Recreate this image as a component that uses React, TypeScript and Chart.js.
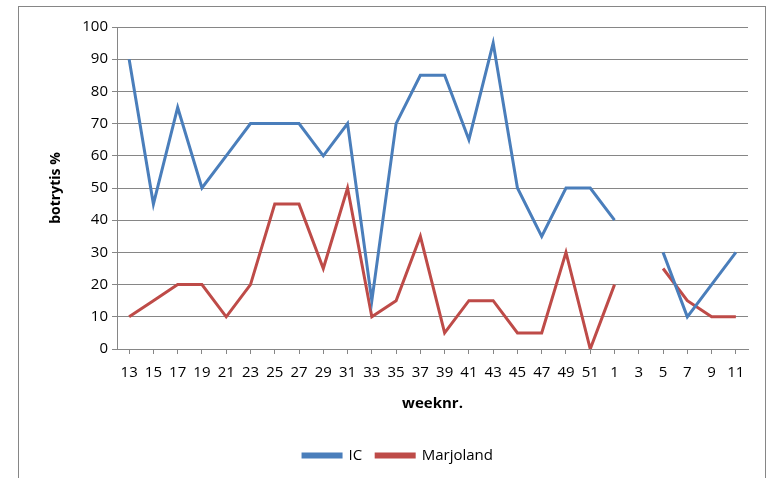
import React, { useEffect, useRef } from "react";
import { Chart, registerables } from "chart.js";

Chart.register(...registerables);

const weeks: string[] = [
  "13", "15", "17", "19", "21", "23", "25", "27", "29", "31", "33", "35", "37",
  "39", "41", "43", "45", "47", "49", "51", "1", "3", "5", "7", "9", "11",
];
const icValues: (number | null)[] = [
  90, 45, 75, 50, 60, 70, 70, 70, 60, 70, 15, 70, 85,
  85, 65, 95, 50, 35, 50, 50, 40, null, 30, 10, 20, 30,
];
const marjolandValues: (number | null)[] = [
  10, 15, 20, 20, 10, 20, 45, 45, 25, 50, 10, 15, 35,
  5, 15, 15, 5, 5, 30, 0, 20, null, 25, 15, 10, 10,
];
const yTicks: number[] = [0, 10, 20, 30, 40, 50, 60, 70, 80, 90, 100];

const FONT = "'Open Sans', sans-serif";

const frame = {
  id: "frame",
  beforeDraw(chart: any) {
    const ctx = chart.ctx;
    ctx.save();
    ctx.fillStyle = "#ffffff";
    ctx.fillRect(0, 0, chart.width, chart.height);
    ctx.strokeStyle = "#868686";
    ctx.lineWidth = 1;
    ctx.strokeRect(18.5, 6.5, 747, 520);
    ctx.restore();
  },
};

export default function App() {
  const ref = useRef<HTMLCanvasElement | null>(null);
  useEffect(() => {
    document.body.style.margin = "0";
    const chart = new Chart(ref.current as HTMLCanvasElement, {
      type: "line",
      data: {
        labels: weeks,
        datasets: [
          {
            label: "IC",
            data: icValues,
            borderColor: "#4A7EBB",
            backgroundColor: "#4A7EBB",
            borderWidth: 3,
            pointRadius: 0,
            tension: 0,
            spanGaps: false,
          },
          {
            label: "Marjoland",
            data: marjolandValues,
            borderColor: "#BE4B48",
            backgroundColor: "#BE4B48",
            borderWidth: 3,
            pointRadius: 0,
            tension: 0,
            spanGaps: false,
          },
        ],
      },
      options: {
        animation: false,
        responsive: false,
        layout: { padding: { left: 48, right: 19, top: 27, bottom: 5 } },
        plugins: {
          tooltip: { enabled: false },
          legend: {
            position: "bottom",
            labels: {
              boxWidth: 38,
              boxHeight: 3,
              padding: 14,
              color: "#000",
              font: { family: FONT, size: 15 },
            },
          },
        },
        scales: {
          x: {
            offset: true,
            grid: {
              drawOnChartArea: false,
              drawTicks: true,
              tickLength: 5,
              color: "#868686",
            },
            border: { color: "#868686" },
            ticks: {
              autoSkip: false,
              maxRotation: 0,
              minRotation: 0,
              padding: 10,
              color: "#000",
              font: { family: FONT, size: 15 },
            },
            title: {
              display: true,
              text: "weeknr.",
              color: "#000",
              font: { family: FONT, size: 15, weight: "bold" },
              padding: { top: 3, bottom: 21 },
            },
          },
          y: {
            min: 0,
            max: 100,
            afterBuildTicks: (axis: any) => {
              axis.ticks = yTicks.map((v) => ({ value: v }));
            },
            afterFit: (axis: any) => {
              axis.width = 69;
            },
            grid: {
              color: "#868686",
              drawTicks: true,
              tickLength: 5,
            },
            border: { color: "#868686" },
            ticks: {
              padding: 4,
              color: "#000",
              font: { family: FONT, size: 15 },
            },
            title: {
              display: true,
              text: "botrytis %",
              color: "#000",
              font: { family: FONT, size: 14, weight: "bold" },
              padding: { top: 0, bottom: 0 },
            },
          },
        },
      },
      plugins: [frame],
    });
    return () => chart.destroy();
  }, []);
  return <canvas ref={ref} width={767} height={478} style={{ display: "block" }} />;
}
